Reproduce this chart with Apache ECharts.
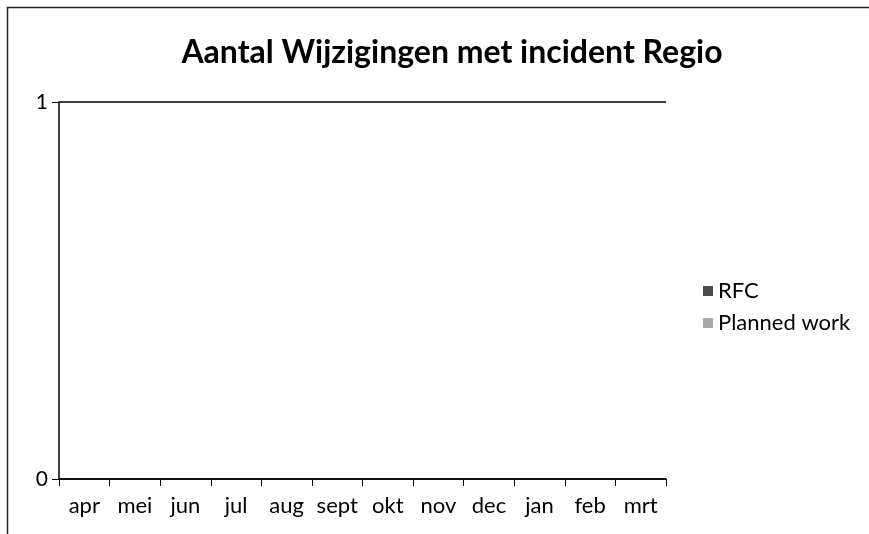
<!DOCTYPE html>
<html>
<head>
<meta charset="utf-8">
<script src="https://cdn.jsdelivr.net/npm/echarts@6/dist/echarts.min.js"></script>
<style>
  html, body { margin: 0; padding: 0; background: #fff; }
  #chart { width: 869px; height: 534px; }
</style>
</head>
<body>
<div id="chart"></div>
<script>
var months = ["apr", "mei", "jun", "jul", "aug", "sept", "okt", "nov", "dec", "jan", "feb", "mrt"];
var rfc = [0, 0, 0, 0, 0, 0, 0, 0, 0, 0, 0, 0];
var plannedWork = [0, 0, 0, 0, 0, 0, 0, 0, 0, 0, 0, 0];

var chart = echarts.init(document.getElementById("chart"));
var font = "Lato, 'Open Sans', sans-serif";

chart.setOption({
  animation: false,
  textStyle: { fontFamily: font },
  title: {
    text: "Aantal Wijzigingen met incident Regio",
    left: 447,
    textAlign: "center",
    top: 32,
    textStyle: { fontFamily: font, fontSize: 32, fontWeight: "bold", color: "#000" }
  },
  // chart frame
  graphic: [{
    type: "rect",
    shape: { x: 7.5, y: 7.5, width: 900, height: 600 },
    style: { fill: "none", stroke: "#222", lineWidth: 1.5 },
    silent: true
  }],
  legend: {
    orient: "vertical",
    left: 698,
    top: 275,
    itemWidth: 10,
    itemHeight: 10,
    itemGap: 10,
    icon: "rect",
    textStyle: { fontFamily: font, fontSize: 22, color: "#000" },
    data: ["RFC", "Planned work"]
  },
  color: ["#4a4a4a", "#a8a8a8"],
  grid: { left: 59, right: 203, top: 102, bottom: 55 },
  xAxis: {
    type: "category",
    data: months,
    boundaryGap: true,
    axisLine: { lineStyle: { color: "#000", width: 1.5 } },
    axisTick: { show: true, alignWithLabel: false, length: 7, lineStyle: { color: "#000" } },
    axisLabel: { color: "#000", fontSize: 22, margin: 16, interval: 0 }
  },
  yAxis: {
    type: "value",
    min: 0,
    max: 1,
    interval: 1,
    axisLine: { show: true, lineStyle: { color: "#000", width: 1.5 } },
    axisTick: { show: true, length: 7, lineStyle: { color: "#000" } },
    axisLabel: { color: "#000", fontSize: 21, margin: 11 },
    splitLine: { show: true, lineStyle: { color: "#000", width: 1.5 } }
  },
  series: [
    { name: "RFC", type: "bar", data: rfc },
    { name: "Planned work", type: "bar", data: plannedWork }
  ]
});
</script>
</body>
</html>
